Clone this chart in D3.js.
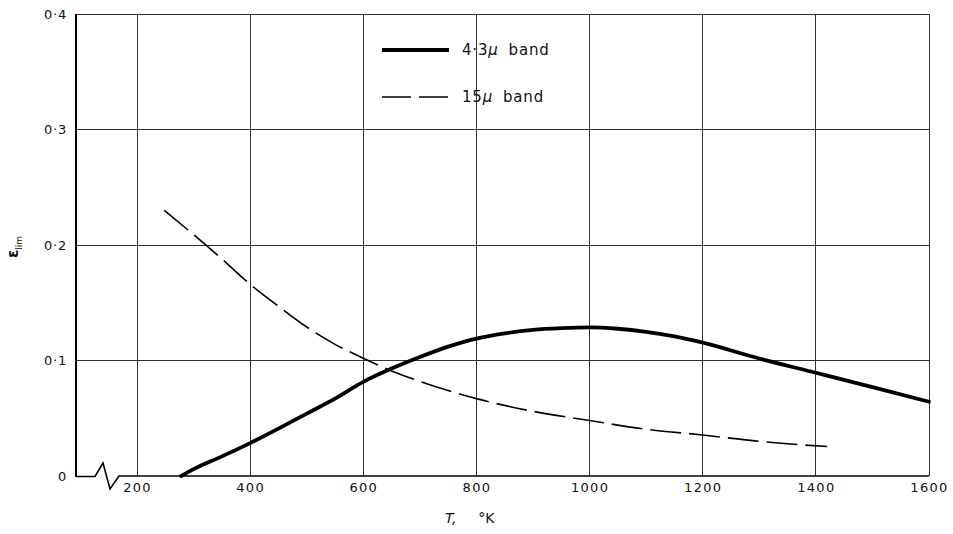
<!DOCTYPE html>
<html>
<head>
<meta charset="utf-8">
<script src="https://cdn.jsdelivr.net/npm/d3@7"></script>
<style>
  html, body { margin: 0; padding: 0; background: #fff; }
  svg { display: block; }
  text { font-family: "DejaVu Sans", "Liberation Sans", sans-serif; fill: #111; }
</style>
</head>
<body>
<svg id="chart" width="953" height="534"></svg>
<script>
// Limiting emissivity of CO2 bands vs. temperature
const xTicks = [200, 400, 600, 800, 1000, 1200, 1400, 1600];
const yTicks = [0, 0.1, 0.2, 0.3, 0.4];
const yTickLabels = ["0", "0·1", "0·2", "0·3", "0·4"];

// 4.3 micron band
const band43T = [278, 300, 350, 400, 450, 500, 550, 600, 650, 700, 750, 800, 850, 900, 950, 1000, 1050, 1100, 1150, 1200, 1300, 1400, 1500, 1600];
const band43E = [0, 0.006, 0.017, 0.0285, 0.041, 0.054, 0.067, 0.0815, 0.093, 0.103, 0.112, 0.119, 0.1235, 0.1265, 0.128, 0.1287, 0.1275, 0.1248, 0.1208, 0.1154, 0.1017, 0.0894, 0.077, 0.0643];

// 15 micron band
const band15T = [248, 300, 350, 400, 450, 500, 550, 600, 650, 700, 750, 800, 900, 1000, 1100, 1200, 1300, 1420];
const band15E = [0.230, 0.209, 0.188, 0.166, 0.147, 0.129, 0.114, 0.102, 0.091, 0.082, 0.074, 0.067, 0.056, 0.048, 0.0405, 0.0355, 0.030, 0.0255];

const legendLabels = ["4·3", "15"];

const svg = d3.select("#chart");
const axisLeftX = 76;
const x = d3.scaleLinear().domain([200, 1600]).range([137, 929]);
const y = d3.scaleLinear().domain([0, 0.4]).range([476, 14]);

// grid
const grid = svg.append("g").attr("stroke", "#333").attr("stroke-width", 1).attr("shape-rendering", "crispEdges");
grid.selectAll("line.v").data(xTicks).join("line")
  .attr("x1", d => x(d)).attr("x2", d => x(d))
  .attr("y1", y(0.4)).attr("y2", y(0));
grid.selectAll("line.h").data(yTicks.filter(d => d > 0)).join("line")
  .attr("x1", axisLeftX).attr("x2", x(1600))
  .attr("y1", d => y(d)).attr("y2", d => y(d));

// y axis: labels only, plus a heavier spine
const yAxis = d3.axisLeft(y).tickValues(yTicks).tickSize(0).tickPadding(9)
  .tickFormat((d, i) => yTickLabels[i]);
const gy = svg.append("g").attr("transform", `translate(${axisLeftX},0)`).call(yAxis);
gy.select(".domain").remove();
gy.selectAll("text").attr("font-size", 13).attr("letter-spacing", "0.8px")
  .attr("font-family", "DejaVu Sans, sans-serif");
svg.append("line").attr("x1", axisLeftX).attr("x2", axisLeftX)
  .attr("y1", y(0.4)).attr("y2", y(0) + 1)
  .attr("stroke", "#000").attr("stroke-width", 2);

// x axis baseline with break symbol
const y0 = y(0);
const breakPath = d3.path();
breakPath.moveTo(axisLeftX, y0 + 0.5);
breakPath.lineTo(95, y0 + 0.5);
breakPath.lineTo(103, y0 - 13);
breakPath.lineTo(110, y0 + 13);
breakPath.lineTo(119, y0);
breakPath.lineTo(x(1600), y0);
svg.append("path").attr("d", breakPath.toString())
  .attr("fill", "none").attr("stroke", "#000").attr("stroke-width", 1.6);

const xAxis = d3.axisBottom(x).tickValues(xTicks).tickSize(0).tickPadding(7).tickFormat(d3.format("d"));
const gx = svg.append("g").attr("transform", `translate(0,${y0})`).call(xAxis);
gx.select(".domain").remove();
gx.selectAll("text").attr("font-size", 13).attr("letter-spacing", "1.3px");

// curves
const line = d3.line().x(d => x(d[0])).y(d => y(d[1])).curve(d3.curveMonotoneX);
svg.append("path")
  .datum(d3.zip(band43T, band43E))
  .attr("d", line)
  .attr("fill", "none").attr("stroke", "#000").attr("stroke-width", 3.8)
  .attr("stroke-linecap", "round");
svg.append("path")
  .datum(d3.zip(band15T, band15E))
  .attr("d", line)
  .attr("fill", "none").attr("stroke", "#000").attr("stroke-width", 1.6)
  .attr("stroke-dasharray", "31,8");

// legend
const lg = svg.append("g");
lg.append("line").attr("x1", 382).attr("x2", 449).attr("y1", 50).attr("y2", 50)
  .attr("stroke", "#000").attr("stroke-width", 3.8);
lg.append("line").attr("x1", 382).attr("x2", 449).attr("y1", 97).attr("y2", 97)
  .attr("stroke", "#000").attr("stroke-width", 1.6).attr("stroke-dasharray", "29,8");
[50, 97].forEach((ly, i) => {
  const t = lg.append("text").attr("x", 462).attr("y", ly + 5).attr("font-size", 15).attr("letter-spacing", "0.8px");
  t.append("tspan").text(legendLabels[i]);
  t.append("tspan").attr("font-style", "italic").text("μ");
  t.append("tspan").attr("dx", 10).text("band");
});

// y-axis title: epsilon with subscript "lim"
const yt = svg.append("text").attr("transform", "translate(18,258) rotate(-90)");
yt.append("tspan").attr("font-size", 15).attr("font-weight", "bold").text("ε");
yt.append("tspan").attr("font-size", 9).attr("dy", 4).text("lim");

// x-axis title
const xt = svg.append("text").attr("x", 445).attr("y", 523).attr("font-size", 14);
xt.append("tspan").attr("font-style", "italic").text("T,");
xt.append("tspan").attr("dx", 22).text("°K");
</script>
</body>
</html>
